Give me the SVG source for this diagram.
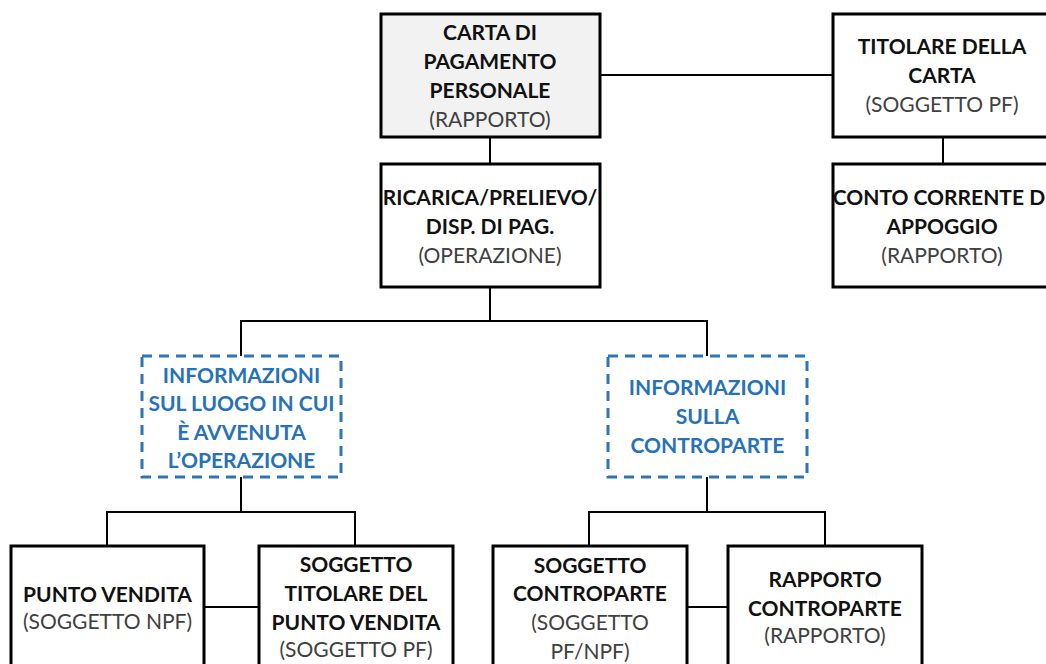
<svg xmlns="http://www.w3.org/2000/svg" width="1046" height="664" viewBox="0 0 1046 664">
<style>
.box{fill:#ffffff;stroke:#000000;stroke-width:3}
.gray{fill:#f2f2f2}
.dash{fill:#ffffff;stroke:#2e75b6;stroke-width:3;stroke-dasharray:10 7}
.conn{fill:none;stroke:#000000;stroke-width:2}
text{font-family:Lato,"Open Sans","Liberation Sans",sans-serif;font-size:21px;text-anchor:middle}
.b{font-weight:bold;fill:#111111}
.n{fill:#404040}
.bl{font-weight:bold;fill:#2672b8}
</style>
<rect width="1046" height="664" fill="#ffffff"/>
<g id="connectors">
<path class="conn" d="M600 75H833"/>
<path class="conn" d="M490 137V164"/>
<path class="conn" d="M943 137V164"/>
<path class="conn" d="M490 287V321"/>
<path class="conn" d="M241 356V321H707V356"/>
<path class="conn" d="M241 477V512"/>
<path class="conn" d="M107 546V512H355V546"/>
<path class="conn" d="M707 477V512"/>
<path class="conn" d="M589 546V512H825V546"/>
<path class="conn" d="M204 607H259"/>
<path class="conn" d="M687 607H728"/>
</g>
<g id="carta">
<rect class="box gray" x="381" y="14" width="219" height="123"/>
<text class="b" x="490" y="40">CARTA DI</text>
<text class="b" x="490" y="69">PAGAMENTO</text>
<text class="b" x="490" y="98">PERSONALE</text>
<text class="n" x="490" y="127">(RAPPORTO)</text>
</g>
<g id="ricarica">
<rect class="box" x="381" y="164" width="219" height="123"/>
<text class="b" x="490" y="205">RICARICA/PRELIEVO/</text>
<text class="b" x="490" y="234">DISP. DI PAG.</text>
<text class="n" x="490" y="263">(OPERAZIONE)</text>
</g>
<g id="titolare">
<rect class="box" x="833" y="14" width="219" height="123"/>
<text class="b" x="942" y="54">TITOLARE DELLA</text>
<text class="b" x="942" y="83">CARTA</text>
<text class="n" x="942" y="112">(SOGGETTO PF)</text>
</g>
<g id="conto">
<rect class="box" x="833" y="164" width="219" height="123"/>
<text class="b" x="942" y="205">CONTO CORRENTE DI</text>
<text class="b" x="942" y="234">APPOGGIO</text>
<text class="n" x="942" y="263">(RAPPORTO)</text>
</g>
<g id="info-luogo">
<rect class="dash" x="142" y="356" width="199" height="121"/>
<text class="bl" x="241.5" y="383">INFORMAZIONI</text>
<text class="bl" x="241.5" y="411">SUL LUOGO IN CUI</text>
<text class="bl" x="241.5" y="440">È AVVENUTA</text>
<text class="bl" x="241.5" y="468">L’OPERAZIONE</text>
</g>
<g id="info-controparte">
<rect class="dash" x="608" y="356" width="199" height="121"/>
<text class="bl" x="707.5" y="395">INFORMAZIONI</text>
<text class="bl" x="707.5" y="424">SULLA</text>
<text class="bl" x="707.5" y="453">CONTROPARTE</text>
</g>
<g id="punto-vendita">
<rect class="box" x="11" y="546" width="193" height="130"/>
<text class="b" x="107.5" y="602">PUNTO VENDITA</text>
<text class="n" x="107.5" y="629">(SOGGETTO NPF)</text>
</g>
<g id="soggetto-titolare">
<rect class="box" x="259" y="546" width="194" height="130"/>
<text class="b" x="356" y="572">SOGGETTO</text>
<text class="b" x="356" y="601">TITOLARE DEL</text>
<text class="b" x="356" y="630">PUNTO VENDITA</text>
<text class="n" x="356" y="657">(SOGGETTO PF)</text>
</g>
<g id="soggetto-controparte">
<rect class="box" x="493" y="546" width="194" height="130"/>
<text class="b" x="590" y="573">SOGGETTO</text>
<text class="b" x="590" y="601">CONTROPARTE</text>
<text class="n" x="590" y="630">(SOGGETTO</text>
<text class="n" x="590" y="659">PF/NPF)</text>
</g>
<g id="rapporto-controparte">
<rect class="box" x="728" y="546" width="194" height="130"/>
<text class="b" x="825" y="587">RAPPORTO</text>
<text class="b" x="825" y="616">CONTROPARTE</text>
<text class="n" x="825" y="643">(RAPPORTO)</text>
</g>
</svg>
